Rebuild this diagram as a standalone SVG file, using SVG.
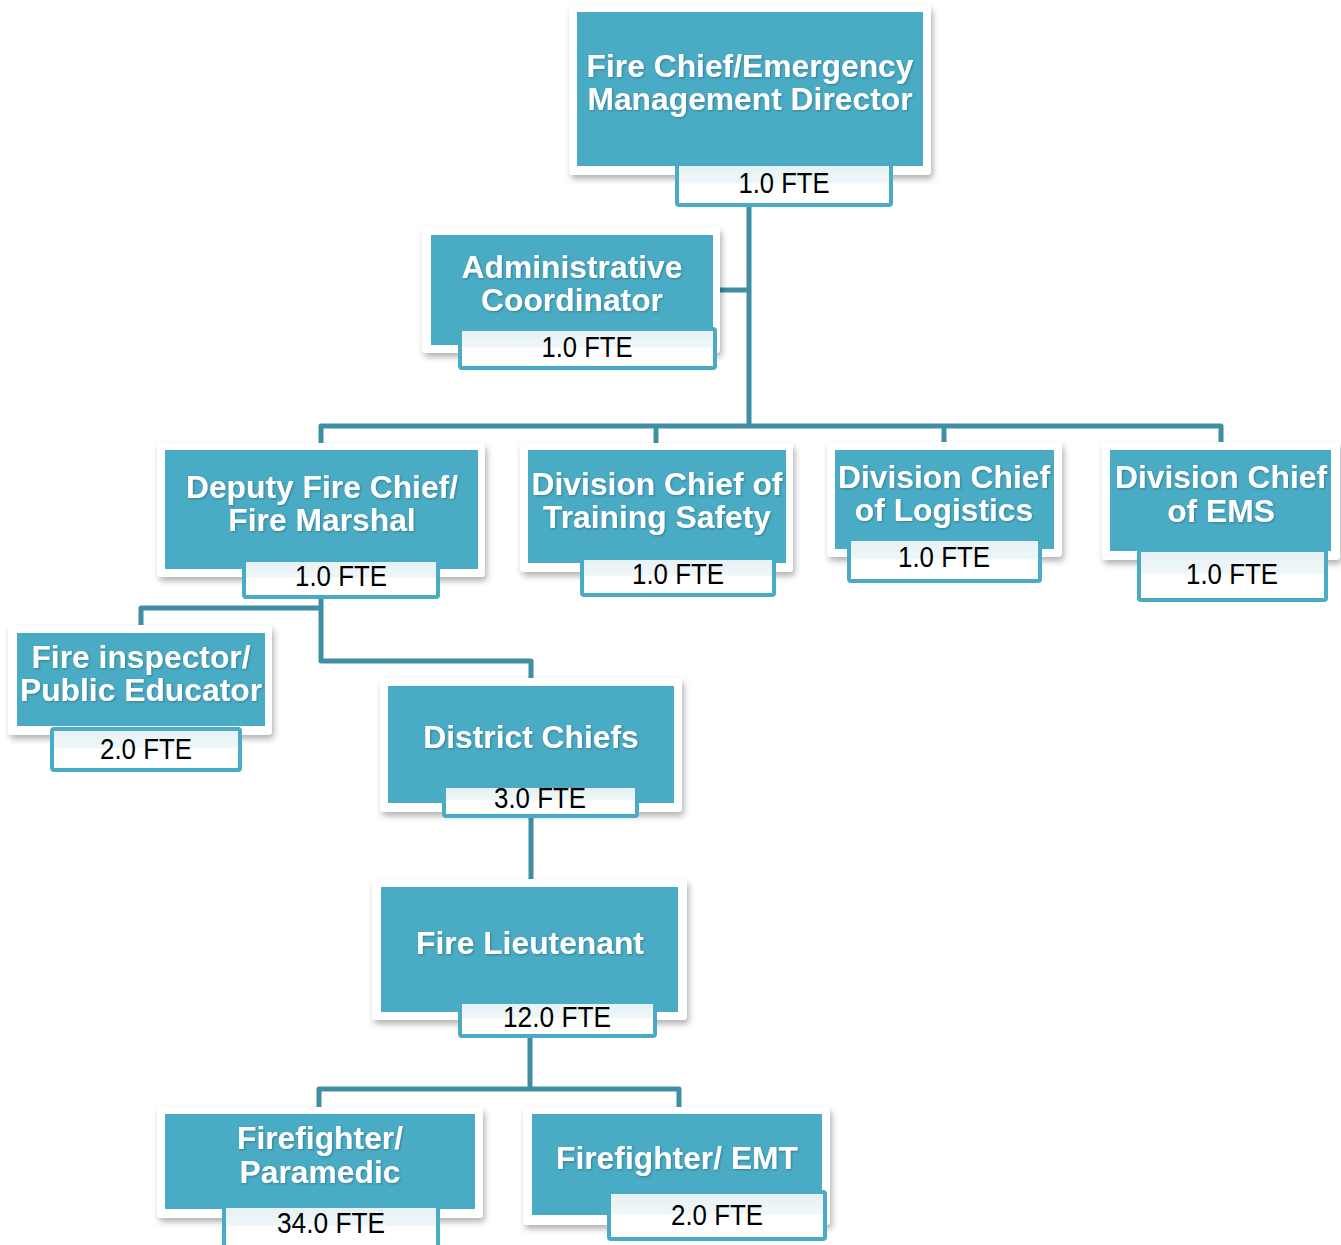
<svg xmlns="http://www.w3.org/2000/svg" width="1341" height="1245" viewBox="0 0 1341 1245">
<defs>
<filter id="sh" x="-10%" y="-10%" width="125%" height="130%">
<feDropShadow dx="2" dy="4" stdDeviation="3" flood-color="#000" flood-opacity="0.3"/>
</filter>
<filter id="ts" x="-5%" y="-20%" width="110%" height="150%">
<feDropShadow dx="1" dy="1" stdDeviation="0.8" flood-color="#1d4f5c" flood-opacity="0.5"/>
</filter>
<linearGradient id="fg" x1="0" y1="0" x2="0" y2="1">
<stop offset="0" stop-color="#e6f1f5"/>
<stop offset="0.45" stop-color="#eef6f8"/>
<stop offset="0.5" stop-color="#ffffff"/>
<stop offset="1" stop-color="#ffffff"/>
</linearGradient>
</defs>
<style>
.frame{fill:#ffffff;filter:url(#sh)}
.box{fill:#4aabc5}
.fte{fill:url(#fg);stroke:#4aabc5;stroke-width:4}
.t{font-family:"Liberation Sans",Arial,sans-serif;font-weight:bold;font-size:31.8px;fill:#ffffff;text-anchor:middle;filter:url(#ts)}
.f{font-family:"Liberation Sans",Arial,sans-serif;font-size:29px;fill:#000000;text-anchor:middle}
.c{fill:none;stroke:#3f8ea3;stroke-width:5;stroke-linejoin:round;stroke-linecap:butt}
</style>
<rect width="1341" height="1245" fill="#ffffff"/>
<g id="connectors">
<path class="c" d="M749,205 V426"/>
<path class="c" d="M718,290 H749"/>
<path class="c" d="M321,448 V426 H1221 V448"/>
<path class="c" d="M656,426 V448"/>
<path class="c" d="M944,426 V448"/>
<path class="c" d="M321,597 V661 H531 V682"/>
<path class="c" d="M321,608 H141 V628"/>
<path class="c" d="M531,817 V881"/>
<path class="c" d="M530,1037 V1089"/>
<path class="c" d="M319,1110 V1089 H679 V1110"/>
</g>
<g id="fire-chief">
<rect class="frame" x="569" y="5" width="362" height="170" rx="4"/>
<rect class="box" x="577" y="12" width="346" height="154"/>
<rect class="fte" x="677" y="164" width="214" height="41" rx="2"/>
<text class="t" x="750" y="77">Fire Chief/Emergency</text>
<text class="t" x="750" y="110">Management Director</text>
<text class="f" x="784" y="193" textLength="91" lengthAdjust="spacingAndGlyphs">1.0 FTE</text>
</g>
<g id="admin-coordinator">
<rect class="frame" x="422" y="227" width="298" height="126" rx="4"/>
<rect class="box" x="431" y="235" width="282" height="110"/>
<rect class="fte" x="460" y="329" width="255" height="39" rx="2"/>
<text class="t" x="572" y="278">Administrative</text>
<text class="t" x="572" y="311">Coordinator</text>
<text class="f" x="587" y="357" textLength="91" lengthAdjust="spacingAndGlyphs">1.0 FTE</text>
</g>
<g id="deputy-fire-chief">
<rect class="frame" x="157" y="443" width="328" height="134" rx="4"/>
<rect class="box" x="165" y="450" width="313" height="119"/>
<rect class="fte" x="244" y="560" width="194" height="37" rx="2"/>
<text class="t" x="322" y="498">Deputy Fire Chief/</text>
<text class="t" x="322" y="531">Fire Marshal</text>
<text class="f" x="341" y="586" textLength="92" lengthAdjust="spacingAndGlyphs">1.0 FTE</text>
</g>
<g id="div-training-safety">
<rect class="frame" x="520" y="443" width="273" height="129" rx="4"/>
<rect class="box" x="528" y="450" width="258" height="113"/>
<rect class="fte" x="582" y="558" width="192" height="37" rx="2"/>
<text class="t" x="657" y="495">Division Chief of</text>
<text class="t" x="657" y="528">Training Safety</text>
<text class="f" x="678" y="584" textLength="92" lengthAdjust="spacingAndGlyphs">1.0 FTE</text>
</g>
<g id="div-logistics">
<rect class="frame" x="827" y="442" width="235" height="115" rx="4"/>
<rect class="box" x="835" y="450" width="219" height="99"/>
<rect class="fte" x="849" y="539" width="191" height="42" rx="2"/>
<text class="t" x="944" y="488">Division Chief</text>
<text class="t" x="944" y="521">of Logistics</text>
<text class="f" x="944" y="567" textLength="92" lengthAdjust="spacingAndGlyphs">1.0 FTE</text>
</g>
<g id="div-ems">
<rect class="frame" x="1102" y="442" width="238" height="118" rx="4"/>
<rect class="box" x="1110" y="450" width="221" height="101"/>
<rect class="fte" x="1139" y="550" width="187" height="50" rx="2"/>
<text class="t" x="1221" y="488">Division Chief</text>
<text class="t" x="1221" y="522">of EMS</text>
<text class="f" x="1232" y="584" textLength="92" lengthAdjust="spacingAndGlyphs">1.0 FTE</text>
</g>
<g id="fire-inspector">
<rect class="frame" x="8" y="625" width="264" height="110" rx="4"/>
<rect class="box" x="17" y="633" width="248" height="93"/>
<rect class="fte" x="52" y="729" width="188" height="41" rx="2"/>
<text class="t" x="141" y="668">Fire inspector/</text>
<text class="t" x="141" y="701">Public Educator</text>
<text class="f" x="146" y="759" textLength="92" lengthAdjust="spacingAndGlyphs">2.0 FTE</text>
</g>
<g id="district-chiefs">
<rect class="frame" x="380" y="678" width="302" height="134" rx="4"/>
<rect class="box" x="388" y="686" width="286" height="117"/>
<rect class="fte" x="444" y="786" width="193" height="30" rx="2"/>
<text class="t" x="531" y="748">District Chiefs</text>
<text class="f" x="540" y="808" textLength="92" lengthAdjust="spacingAndGlyphs">3.0 FTE</text>
</g>
<g id="fire-lieutenant">
<rect class="frame" x="372" y="879" width="315" height="141" rx="4"/>
<rect class="box" x="381" y="887" width="297" height="125"/>
<rect class="fte" x="460" y="1002" width="195" height="34" rx="2"/>
<text class="t" x="530" y="954">Fire Lieutenant</text>
<text class="f" x="557" y="1027" textLength="108" lengthAdjust="spacingAndGlyphs">12.0 FTE</text>
</g>
<g id="firefighter-paramedic">
<rect class="frame" x="157" y="1107" width="326" height="111" rx="4"/>
<rect class="box" x="165" y="1114" width="310" height="95"/>
<rect class="fte" x="224" y="1206" width="214" height="42" rx="2"/>
<text class="t" x="320" y="1149">Firefighter/</text>
<text class="t" x="320" y="1183">Paramedic</text>
<text class="f" x="331" y="1233" textLength="108" lengthAdjust="spacingAndGlyphs">34.0 FTE</text>
</g>
<g id="firefighter-emt">
<rect class="frame" x="523" y="1107" width="307" height="118" rx="4"/>
<rect class="box" x="532" y="1114" width="290" height="101"/>
<rect class="fte" x="609" y="1192" width="216" height="47" rx="2"/>
<text class="t" x="677" y="1169">Firefighter/ EMT</text>
<text class="f" x="717" y="1225" textLength="92" lengthAdjust="spacingAndGlyphs">2.0 FTE</text>
</g>
</svg>
